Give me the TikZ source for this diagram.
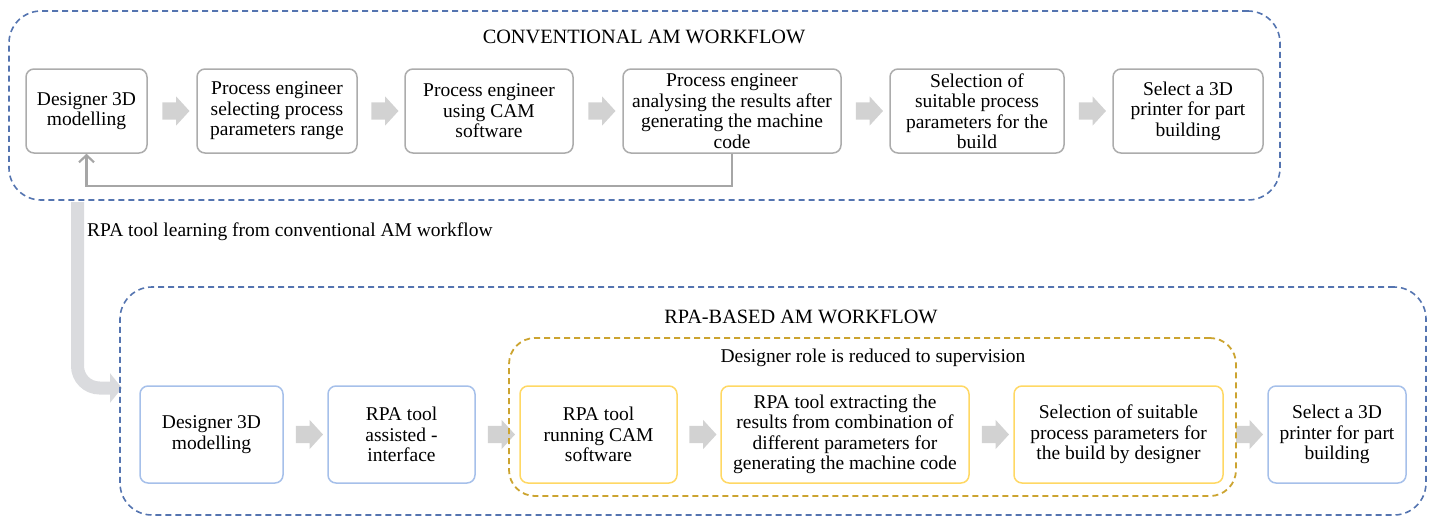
\documentclass[tikz,border=0pt]{standalone}
\usepackage{fontspec}
\setmainfont{Liberation Serif}
\usetikzlibrary{shapes.arrows,arrows.meta,calc}

\definecolor{boxgray}{RGB}{172,172,172}
\definecolor{boxblue}{RGB}{166,192,234}
\definecolor{boxyellow}{RGB}{255,216,100}
\definecolor{dashblue}{RGB}{84,116,176}
\definecolor{dashyellow}{RGB}{204,164,48}
\definecolor{stepgray}{RGB}{210,210,210}
\definecolor{flowgray}{RGB}{166,166,166}
\definecolor{learngray}{RGB}{218,219,222}

\tikzset{
  boxtext/.style={font=\fontsize{19.5}{20.5}\selectfont, align=center, inner sep=0pt},
  procbox/.style={boxtext, draw=boxgray, line width=1.5pt, rounded corners=8pt, fill=white},
  rpabox/.style={procbox, draw=boxblue},
  autobox/.style={procbox, draw=boxyellow},
  steparrow/.style={single arrow, fill=stepgray, draw=none, inner sep=0pt, outer sep=0pt,
    minimum height=27pt, single arrow head extend=6pt, single arrow tip angle=95},
  container/.style={draw=dashblue, line width=1.6pt, dash pattern=on 6pt off 4pt,
    rounded corners=32pt, inner sep=0pt},
  supervise/.style={draw=dashyellow, line width=1.8pt, dash pattern=on 6pt off 4pt,
    rounded corners=26pt, inner sep=0pt},
  titletext/.style={font=\fontsize{20.3}{22}\selectfont, inner sep=0pt, anchor=base},
  feedback/.style={draw=flowgray, line width=2.2pt,
    -{Straight Barb[length=7pt 0 0,width=15pt 0 0]}},
  learnarrow/.style={draw=learngray, line width=13pt, rounded corners=22pt,
    -{Triangle[length=12pt 0 0,width=29pt 0 0]}},
}
% shaft of the small step arrows: 17pt thick
\newcommand{\stepshaft}{\rule{0pt}{17pt}}

\begin{document}
\begin{tikzpicture}[x=1pt,y=-1pt]
\useasboundingbox (0,0) rectangle (1435,517);

% conventional workflow steps
\node[procbox, minimum width=121, minimum height=84] (t1) at (86.5,111) {Designer 3D\\modelling};
\node[procbox, minimum width=160, minimum height=84] (t2) at (277,111) {Process engineer\\selecting process\\parameters range};
\node[procbox, minimum width=168, minimum height=84] (t3) at (489,111) {Process engineer\\using CAM\\software};
\node[procbox, minimum width=218, minimum height=84] (t4) at (732,111) {Process engineer\\analysing the results after\\generating the machine\\code};
\node[procbox, minimum width=174, minimum height=84] (t5) at (977,111) {Selection of\\suitable process\\parameters for the\\build};
\node[procbox, minimum width=150, minimum height=84] (t6) at (1188,111) {Select a 3D\\printer for part\\building};

\foreach \a/\b in {t1/t2,t2/t3,t3/t4,t4/t5,t5/t6}
  \node[steparrow] (\a\b) at ($(\a.east)!0.5!(\b.west)$) {\stepshaft};

% iteration back to the designer
\draw[feedback] (t4.south) -- ++(0,32) -| (t1.south);

% RPA-based workflow steps
\node[rpabox, minimum width=143, minimum height=97] (b1) at (211.5,434.5) {Designer 3D\\modelling};
\node[rpabox, minimum width=147, minimum height=97] (b2) at (401.5,434.5) {RPA tool\\assisted -\\interface};
\node[autobox, minimum width=157, minimum height=97] (b3) at (598.5,434.5) {RPA tool\\running CAM\\software};
\node[autobox, minimum width=248, minimum height=97] (b4) at (845,434.5) {RPA tool extracting the\\results from combination of\\different parameters for\\generating the machine code};
\node[autobox, minimum width=209, minimum height=97] (b5) at (1118.5,434.5) {Selection of suitable\\process parameters for\\the build by designer};
\node[rpabox, minimum width=138, minimum height=97] (b6) at (1337,434.5) {Select a 3D\\printer for part\\building};

\foreach \a/\b in {b1/b2,b2/b3,b3/b4,b4/b5,b5/b6}
  \node[steparrow] (\a\b) at ($(\a.east)!0.5!(\b.west)$) {\stepshaft};

% knowledge transfer between the two workflows
\coordinate (lrn) at (77.5,202);
\coordinate (lrnend) at (122,388);
\draw[learnarrow] (lrn) |- (lrnend);

% workflow containers
\node[container, minimum width=1271, minimum height=189] (conv) at (644.5,105.5) {};
\node[container, minimum width=1306, minimum height=228] (rpa) at (773,401) {};
\node[supervise, minimum width=727, minimum height=158] (sup) at (872.5,417) {};

% titles and captions
\node[titletext] (convtitle) at (644,43) {CONVENTIONAL AM WORKFLOW};
\node[titletext] (rpatitle) at (801,323) {RPA-BASED AM WORKFLOW};
\node[titletext, font=\fontsize{19.5}{21}\selectfont] (suptitle) at (873,362) {Designer role is reduced to supervision};
\node[titletext, anchor=base west, font=\fontsize{19.5}{21}\selectfont] (lrntext) at (87,236) {RPA tool learning from conventional AM workflow};
\end{tikzpicture}
\end{document}
